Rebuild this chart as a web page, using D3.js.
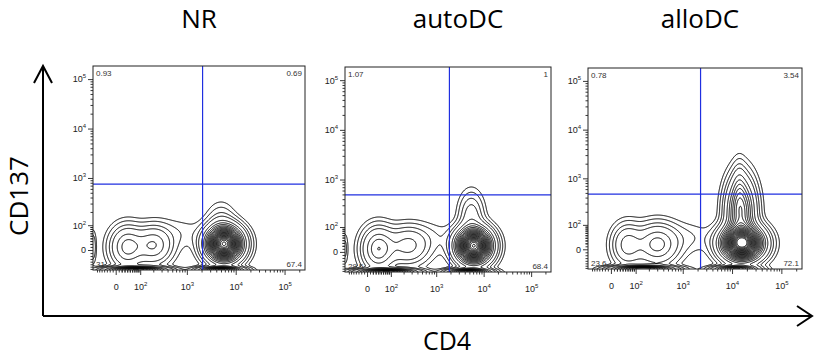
<!DOCTYPE html>
<html>
<head>
<meta charset="utf-8">
<script src="https://cdn.jsdelivr.net/npm/d3@7"></script>
<style>
  body { margin: 0; background: #fff; }
  svg { display: block; }
</style>
</head>
<body>
<script>
// ---- data ----
const panels = ['NR', 'autoDC', 'alloDC']
const upperLeft = ['0.93', '1.07', '0.78']
const upperRight = ['0.69', '1', '3.54']
const lowerLeft = ['31', '29.5', '23.6']
const lowerRight = ['67.4', '68.4', '72.1']
const cd4Gate = [2100, 1900, 2300]
const cd137Gate = [750, 490, 470]

const majorTicks = [0, 1e2, 1e3, 1e4, 1e5]
const majorLabels = [['0', ''], ['10', '2'], ['10', '3'], ['10', '4'], ['10', '5']]

// populations: [CD4, CD137, spread CD4 (decades), spread CD137 (decades), peak]
const nrPops = [
  [40, 10, 0.2, 0.24, 0.16],
  [200, 15, 0.22, 0.22, 0.14],
  [5800, 20, 0.21, 0.2, 1.0],
  [5000, 100, 0.17, 0.25, 0.04],
  [650, 60, 0.4, 0.2, 0.012],
  [80, -75, 0.35, 0.04, 0.5],
  [5000, -75, 0.25, 0.04, 0.5],
  [-90, 10, 0.04, 0.2, 0.03]
]
const autoPops = [
  [40, 10, 0.2, 0.25, 0.18],
  [250, 20, 0.26, 0.22, 0.11],
  [6200, 20, 0.21, 0.2, 1.0],
  [5500, 180, 0.15, 0.27, 0.07],
  [750, 50, 0.4, 0.2, 0.012],
  [80, -75, 0.35, 0.04, 0.5],
  [5000, -75, 0.25, 0.04, 0.5],
  [-90, 10, 0.04, 0.2, 0.02]
]
const alloPops = [
  [60, 15, 0.18, 0.24, 0.12],
  [300, 16, 0.25, 0.24, 0.16],
  [16000, 20, 0.24, 0.2, 1.0],
  [15000, 200, 0.17, 0.4, 0.35],
  [14000, 600, 0.08, 0.3, 0.06],
  [1200, 40, 0.35, 0.2, 0.015],
  [150, -75, 0.35, 0.04, 0.5],
  [12000, -75, 0.25, 0.04, 0.4]
]
const populations = [nrPops, autoPops, alloPops]

const cd4Range = [-90, 262144]
const cd137Range = [-75, 184000]

// ---- layout ----
const width = 816
const height = 360
const boxes = [
  { x: 93, y: 66, w: 212, h: 204 },
  { x: 345, y: 67, w: 206, h: 205 },
  { x: 588, y: 68, w: 214, h: 201 }
]
const titleX = [199, 458, 700]

// biexponential display transform
const T = v => Math.asinh(v / 70) / Math.LN10

const minorTicks = []
for (const base of [10, 100, 1000, 10000, 100000]) {
  for (let k = 2; k <= 9; k++) minorTicks.push(k * base)
}
for (let k = 1; k <= 9; k++) minorTicks.push(k * 10)
for (let k = 1; k <= 7; k++) minorTicks.push(-k * 10)

const contourLevels = [0.007, 0.015, 0.03].concat(d3.range(0.05, 1, 0.045))

const svg = d3.select('body').append('svg')
  .attr('width', width)
  .attr('height', height)

const defs = svg.append('defs')

panels.forEach((name, p) => {
  const b = boxes[p]
  const xs = d3.scaleLinear().domain(cd4Range.map(T)).range([0, b.w])
  const ys = d3.scaleLinear().domain(cd137Range.map(T)).range([b.h, 0])
  const xMinor = minorTicks.filter(v => v > cd4Range[0] && v < cd4Range[1])
  const yMinor = minorTicks.filter(v => v > cd137Range[0] && v < cd137Range[1])

  const g = svg.append('g').attr('transform', `translate(${b.x},${b.y})`)

  defs.append('clipPath').attr('id', `clip${p}`)
    .append('rect').attr('width', b.w).attr('height', b.h)

  // density grid -> contours
  const m = 6
  const n = b.w + 2 * m
  const k = b.h + 2 * m
  const pops = populations[p].map(d => ({ x: T(d[0]), y: T(d[1]), sx: d[2], sy: d[3], a: d[4] }))
  const values = new Float64Array(n * k)
  for (let j = 0; j < k; j++) {
    const ty = ys.invert(j - m + 0.5)
    for (let i = 0; i < n; i++) {
      const tx = xs.invert(i - m + 0.5)
      let s = 0
      for (const c of pops) {
        const dx = (tx - c.x) / c.sx
        const dy = (ty - c.y) / c.sy
        s += c.a * Math.exp(-0.5 * (dx * dx + dy * dy))
      }
      values[j * n + i] = s
    }
  }
  const contours = d3.contours().size([n, k]).thresholds(contourLevels)(values)
  const path = d3.geoPath(d3.geoIdentity().translate([-m, -m]))

  g.append('g')
    .attr('clip-path', `url(#clip${p})`)
    .selectAll('path')
    .data(contours)
    .join('path')
    .attr('d', path)
    .attr('fill', 'none')
    .attr('stroke', '#000')
    .attr('stroke-width', 1)

  // gates
  g.append('line')
    .attr('x1', xs(T(cd4Gate[p]))).attr('x2', xs(T(cd4Gate[p])))
    .attr('y1', 0).attr('y2', b.h)
    .attr('stroke', '#1f2fe0').attr('stroke-width', 1.2)
  g.append('line')
    .attr('x1', 0).attr('x2', b.w)
    .attr('y1', ys(T(cd137Gate[p]))).attr('y2', ys(T(cd137Gate[p])))
    .attr('stroke', '#1f2fe0').attr('stroke-width', 1.2)

  // frame
  g.append('rect')
    .attr('width', b.w).attr('height', b.h)
    .attr('fill', 'none').attr('stroke', '#222').attr('stroke-width', 1)

  // quadrant numbers
  const q = g.append('g').attr('font-family', 'Liberation Sans, Arial, sans-serif')
    .attr('font-size', 8).attr('fill', '#333')
  q.append('text').attr('x', 3).attr('y', 10).text(upperLeft[p])
  q.append('text').attr('x', b.w - 3).attr('y', 10).attr('text-anchor', 'end').text(upperRight[p])
  q.append('text').attr('x', 3).attr('y', b.h - 3).text(lowerLeft[p])
  q.append('text').attr('x', b.w - 3).attr('y', b.h - 3).attr('text-anchor', 'end').text(lowerRight[p])

  // axes
  const fmt = function (d, i) {
    const t = d3.select(this)
    t.text(majorLabels[i][0])
    t.append('tspan').attr('dy', -4).attr('font-size', 6).text(majorLabels[i][1])
  }

  const yAxisG = g.append('g')
  yAxisG.append('g')
    .call(d3.axisLeft(ys).tickValues(yMinor.map(T)).tickSize(2.5).tickFormat(''))
  const yMajor = yAxisG.append('g')
    .call(d3.axisLeft(ys).tickValues(majorTicks.map(T)).tickSize(5).tickPadding(2).tickFormat(''))
  yMajor.selectAll('text').each(fmt)
  if (p === 2) {
    defs.append('clipPath').attr('id', 'labelClip')
      .append('rect').attr('x', 567 - b.x).attr('y', -20).attr('width', 40).attr('height', b.h + 40)
    yMajor.attr('clip-path', 'url(#labelClip)')
  }

  const xAxisG = g.append('g').attr('transform', `translate(0,${b.h})`)
  xAxisG.append('g')
    .call(d3.axisBottom(xs).tickValues(xMinor.map(T)).tickSize(2.5).tickFormat(''))
  const xMajor = xAxisG.append('g')
    .call(d3.axisBottom(xs).tickValues(majorTicks.map(T)).tickSize(5).tickPadding(9).tickFormat(''))
  xMajor.selectAll('text').each(fmt)

  g.selectAll('.domain').remove()
  g.selectAll('.tick line').attr('stroke', '#222').attr('stroke-width', 0.9)
  g.selectAll('.tick text')
    .attr('font-family', 'Liberation Sans, Arial, sans-serif')
    .attr('font-size', 9).attr('fill', '#222')

  // panel title
  svg.append('text')
    .attr('x', titleX[p])
    .attr('y', 28)
    .attr('text-anchor', 'middle')
    .attr('font-family', 'Open Sans, sans-serif')
    .attr('font-size', 26)
    .text(name)
})

// outer axes with open arrowheads
const outer = svg.append('g')
  .attr('stroke', '#000').attr('stroke-width', 2).attr('fill', 'none')
outer.append('path').attr('d', 'M43,316 V67 M43,316 H811')
outer.append('path').attr('d', 'M34,83 L43,66 L52,83')
outer.append('path').attr('d', 'M797,306 L812,316 L797,326')

svg.append('text')
  .attr('transform', 'translate(28,196) rotate(-90)')
  .attr('text-anchor', 'middle')
  .attr('font-family', 'Open Sans, sans-serif')
  .attr('font-size', 26)
  .text('CD137')

svg.append('text')
  .attr('x', 447)
  .attr('y', 350)
  .attr('text-anchor', 'middle')
  .attr('font-family', 'Open Sans, sans-serif')
  .attr('font-size', 25)
  .text('CD4')
</script>
</body>
</html>
